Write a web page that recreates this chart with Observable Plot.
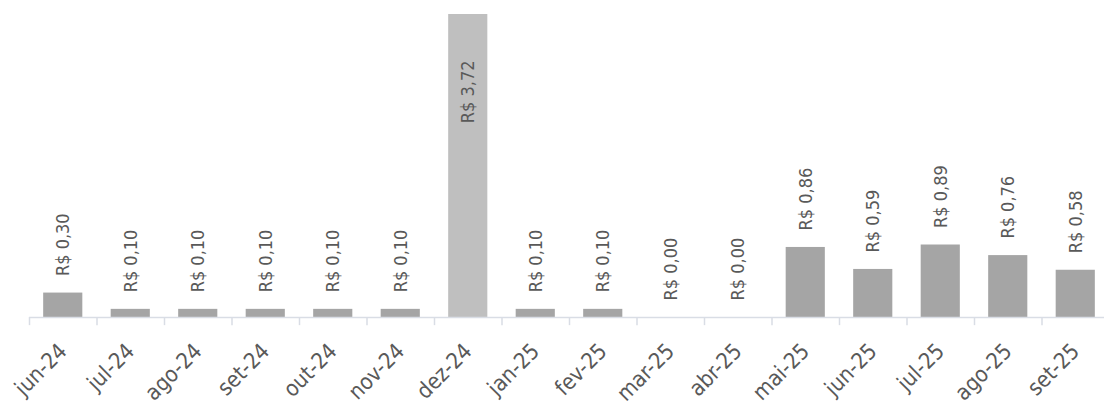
<!DOCTYPE html>
<html>
<head>
<meta charset="utf-8">
<script src="https://cdn.jsdelivr.net/npm/d3@7"></script>
<script src="https://cdn.jsdelivr.net/npm/@observablehq/plot@0.6"></script>
<style>
  body { margin: 0; background: #fff; }
</style>
</head>
<body>
<div id="chart"></div>
<script>
const months = ["jun-24","jul-24","ago-24","set-24","out-24","nov-24","dez-24","jan-25","fev-25","mar-25","abr-25","mai-25","jun-25","jul-25","ago-25","set-25"];
const values = [0.30, 0.10, 0.10, 0.10, 0.10, 0.10, 3.72, 0.10, 0.10, 0.00, 0.00, 0.86, 0.59, 0.89, 0.76, 0.58];
const highlight = ["dez-24"];

const data = months.map((m, i) => ({month: m, value: values[i]}));
const fmt = v => "R$ " + v.toFixed(2).replace(".", ",");

const W = 1104, H = 405;
const xRange = [29, 1109];
const step = (xRange[1] - xRange[0]) / months.length;
const font = '"Liberation Sans Narrow", "DejaVu Sans Condensed", sans-serif';

const chart = Plot.plot({
  width: W,
  height: H,
  marginLeft: 29,
  marginRight: 0,
  marginTop: 14,
  marginBottom: 88,
  style: {fontFamily: font, background: "#fff"},
  x: {domain: months, range: xRange, paddingInner: 0.42, paddingOuter: 0.21, round: false, label: null},
  y: {domain: [0, 3.72], axis: null},
  marks: [
    Plot.barY(data, {
      x: "month", y: "value",
      fill: d => highlight.includes(d.month) ? "#bfbfbf" : "#a5a5a5"
    }),
    Plot.ruleY([0], {stroke: "#d9dde5", strokeWidth: 1.5}),
    Plot.ruleX(months, {x: d => d, y1: -0.1, y2: 0, dx: -step / 2, stroke: "#d9dde5", strokeWidth: 1.5}),
    Plot.ruleX([months[months.length - 1]], {x: d => d, y1: -0.1, y2: 0, dx: step / 2, stroke: "#d9dde5", strokeWidth: 1.5}),
    Plot.text(data.filter(d => !highlight.includes(d.month)), {
      x: "month", y: "value", text: d => fmt(d.value),
      rotate: -90, textAnchor: "start", dy: -17,
      fill: "#595959", fontSize: 18
    }),
    Plot.text(data.filter(d => highlight.includes(d.month)), {
      x: "month", y: "value", text: d => fmt(d.value),
      rotate: -90, textAnchor: "end", dy: 46,
      fill: "#595959", fontSize: 18
    }),
    Plot.axisX({
      tickRotate: -45, tickSize: 0, tickPadding: 30,
      fontSize: 22, color: "#595959", label: null
    })
  ]
});
document.getElementById("chart").appendChild(chart);
</script>
</body>
</html>
